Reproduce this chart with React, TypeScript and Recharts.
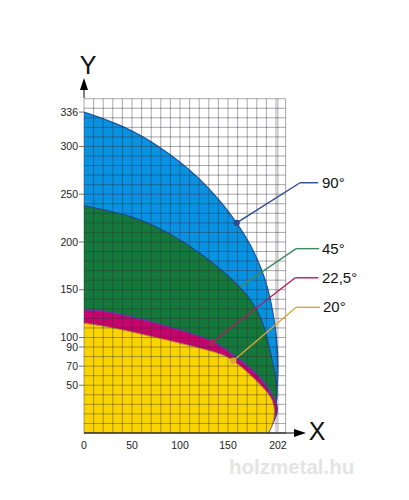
import { Area, CartesianGrid, ComposedChart, ReferenceDot, ReferenceLine, XAxis, YAxis } from "recharts";

// ===== DATA (x = horizontal reach, y = height) =====
const x90 = [0, 40, 79, 119, 159, 185, 197, 202, 199, 192];
const y90 = [336, 321, 299, 267, 220, 171, 125, 75, 30, 0];

const x45 = [0, 50, 90, 125, 162, 185, 197, 201, 192];
const y45 = [238, 226, 208, 185, 153, 118, 72, 38, 0];

const x225 = [0, 30, 79, 131, 155, 173, 188, 198, 201, 192];
const y225 = [129, 126, 114, 97, 82, 68, 52, 36, 22, 0];

const x20 = [0, 30, 79, 131, 155, 173, 186, 194, 198, 197, 192];
const y20 = [115, 110, 99, 86, 76, 61, 48, 38, 26, 12, 0];

const xTicks = [0, 50, 100, 150, 202];
const yTicks = [50, 70, 90, 100, 150, 200, 250, 300, 336];
const gridX = [0, 10, 20, 30, 40, 50, 60, 70, 80, 90, 100, 110, 120, 130, 140, 150, 160, 170, 180, 190, 200, 202, 210];
const gridY = [0, 10, 20, 30, 40, 50, 60, 70, 80, 90, 100, 110, 120, 130, 140, 150, 160, 170, 180, 190, 200, 210, 220, 230, 240, 250, 260, 270, 280, 290, 300, 310, 320, 330, 340, 350];

// leader lines: [dot, elbow, end]
const leader90 = [{ x: 159, y: 220 }, { x: 225, y: 262 }, { x: 244, y: 262 }];
const leader45 = [{ x: 162.5, y: 153 }, { x: 221, y: 193 }, { x: 245, y: 193 }];
const leader225 = [{ x: 133, y: 94.5 }, { x: 220, y: 162.5 }, { x: 244, y: 162.5 }];
const leader20 = [{ x: 155.5, y: 75.7 }, { x: 221, y: 131.6 }, { x: 246, y: 131.6 }];

const toRows = (xs: number[], ys: number[]) => xs.map((x, i) => ({ x, y: ys[i] }));

const FONT = "'Liberation Sans', Arial, sans-serif";

// ===== LEADER =====
const leader = (pts: { x: number; y: number }[], color: string, dot: boolean) => [
  <ReferenceLine
    key="a"
    segment={[pts[0], pts[1]]}
    stroke={color}
    strokeWidth={1.4}
    ifOverflow="visible"
  />,
  <ReferenceLine
    key="b"
    segment={[pts[1], pts[2]]}
    stroke={color}
    strokeWidth={1.4}
    ifOverflow="visible"
  />,
  dot ? (
    <ReferenceDot key="c" x={pts[0].x} y={pts[0].y} r={3.2} fill={color} stroke="none" ifOverflow="visible" />
  ) : null,
];

export default function App() {
  const axisTick = { fontSize: 10.5, fontFamily: FONT, fill: "#222" };

  return (
    <div style={{ position: "absolute", left: 0, top: 0, width: 409, height: 500, background: "#fff" }}>
      <ComposedChart
        layout="vertical"
        width={409}
        height={500}
        margin={{ top: 98.7, right: 123.4, bottom: 47, left: 54 }}
      >
        <XAxis
          type="number"
          dataKey="x"
          domain={[0, 210]}
          ticks={xTicks}
          interval={0}
          height={20}
          tickSize={0}
          tickMargin={9}
          tick={axisTick}
          axisLine={false}
        />
        <YAxis
          type="number"
          dataKey="y"
          domain={[0, 350]}
          reversed
          ticks={yTicks}
          interval={0}
          width={30}
          tickSize={5}
          tickMargin={1}
          tick={axisTick}
          tickLine={{ stroke: "#777" }}
          axisLine={false}
        />

        {/* curves, largest first */}
        <Area
          data={toRows(x90, y90)}
          dataKey="x"
          type="natural"
          fill="#0a92e2"
          fillOpacity={1}
          stroke="#1c57a8"
          strokeWidth={1.2}
          isAnimationActive={false}
        />
        <Area
          data={toRows(x45, y45)}
          dataKey="x"
          type="natural"
          fill="#15783b"
          fillOpacity={1}
          stroke="#1b4f8f"
          strokeWidth={1.2}
          isAnimationActive={false}
        />
        <Area
          data={toRows(x225, y225)}
          dataKey="x"
          type="natural"
          fill="#c6056c"
          fillOpacity={1}
          stroke="#6a35b0"
          strokeWidth={1.5}
          isAnimationActive={false}
        />
        <Area
          data={toRows(x20, y20)}
          dataKey="x"
          type="natural"
          fill="#fbd400"
          fillOpacity={1}
          stroke="#b58f35"
          strokeWidth={1}
          isAnimationActive={false}
        />

        <CartesianGrid
          verticalValues={gridX}
          horizontalValues={gridY}
          stroke="#2f2f3a"
          strokeOpacity={0.42}
          strokeWidth={1}
          zIndex={300}
        />

        <ReferenceLine y={0} stroke="#333" strokeWidth={1.5} ifOverflow="visible" />

        {leader(leader90, "#2b4c8c", true)}
        {leader(leader45, "#3d8c60", false)}
        {leader(leader225, "#b51b62", true)}
        {leader(leader20, "#dca636", true)}

        {/* axis arrows */}
        <line x1={84} y1={98} x2={84} y2={88} stroke="#000" strokeWidth={1} />
        <polygon points="84,78 80,90 88,90" fill="#000" />
        <line x1={285} y1={433} x2={297} y2={433} stroke="#000" strokeWidth={1} />
        <polygon points="306,433 294,429 294,437" fill="#000" />

        <text x={88} y={74} textAnchor="middle" fontFamily={FONT} fontSize={25} fill="#111">Y</text>
        <text x={317} y={440} textAnchor="middle" fontFamily={FONT} fontSize={25} fill="#111">X</text>

        <text x={322} y={188} fontFamily={FONT} fontSize={15} fill="#111">90°</text>
        <text x={322} y={254} fontFamily={FONT} fontSize={15} fill="#111">45°</text>
        <text x={322} y={283} fontFamily={FONT} fontSize={15} fill="#111">22,5°</text>
        <text x={323} y={312} fontFamily={FONT} fontSize={15} fill="#111">20°</text>

        <text x={229} y={474} fontFamily={FONT} fontSize={20.5} fontWeight="bold" fill="#e4e4e4">holzmetal.hu</text>
      </ComposedChart>
    </div>
  );
}
